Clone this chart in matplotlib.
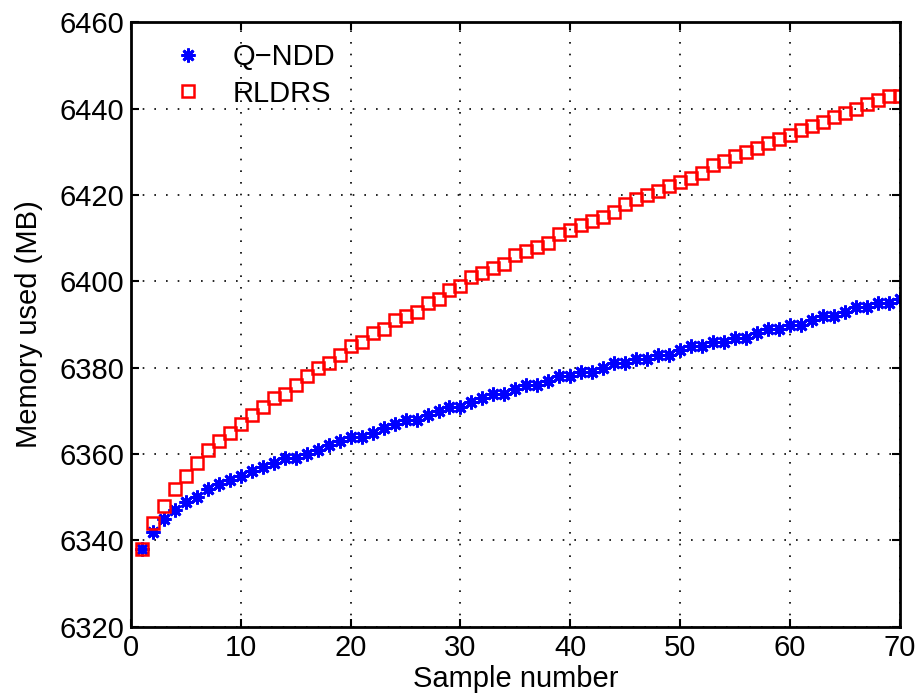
import matplotlib
matplotlib.use("Agg")
import matplotlib.pyplot as plt

# sample index 1..70
samples = list(range(1, 71))

qndd = [6338, 6342, 6345, 6347, 6349, 6350, 6352, 6353, 6354, 6355,
        6356, 6357, 6358, 6359, 6359, 6360, 6361, 6362, 6363, 6364,
        6364, 6365, 6366, 6367, 6368, 6368, 6369, 6370, 6371, 6371,
        6372, 6373, 6374, 6374, 6375, 6376, 6376, 6377, 6378, 6378,
        6379, 6379, 6380, 6381, 6381, 6382, 6382, 6383, 6383, 6384,
        6385, 6385, 6386, 6386, 6387, 6387, 6388, 6389, 6389, 6390,
        6390, 6391, 6392, 6392, 6393, 6394, 6394, 6395, 6395, 6396]

rldrs = [6338, 6344, 6348, 6352, 6355, 6358, 6361, 6363, 6365, 6367,
         6369, 6371, 6373, 6374, 6376, 6378, 6380, 6381, 6383, 6385,
         6386, 6388, 6389, 6391, 6392, 6393, 6395, 6396, 6398, 6399,
         6401, 6402, 6403, 6404, 6406, 6407, 6408, 6409, 6411, 6412,
         6413, 6414, 6415, 6416, 6418, 6419, 6420, 6421, 6422, 6423,
         6424, 6425, 6427, 6428, 6429, 6430, 6431, 6432, 6433, 6434,
         6435, 6436, 6437, 6438, 6439, 6440, 6441, 6442, 6443, 6443]

plt.rcParams['font.family'] = ['Liberation Sans', 'DejaVu Sans']
fs = 21

fig = plt.figure(figsize=(9.17, 6.98), dpi=100)
ax = fig.add_axes([0.143, 0.102, 0.838, 0.866])

ax.plot(samples, qndd, linestyle='none', marker=(8, 2, 0), markersize=10,
        markeredgewidth=2, color='#0000ff', label='Q\u2212NDD')
ax.plot(samples, rldrs, linestyle='none', marker='s', markersize=9,
        markeredgewidth=1.8, markerfacecolor='none', markeredgecolor='#ff0000',
        label='RLDRS')

ax.set_xlim(0, 70)
ax.set_ylim(6320, 6460)
ax.set_xticks(range(0, 71, 10))
ax.set_yticks(range(6320, 6461, 20))
ax.grid(True, linestyle=(0, (1, 6)), color='black', linewidth=1.2)
ax.tick_params(direction='in', top=True, right=True, length=6, width=1.5,
               labelsize=fs, pad=5)
for s in ax.spines.values():
    s.set_linewidth(2)

ax.set_xlabel('Sample number', fontsize=fs, labelpad=2)
ax.set_ylabel('Memory used (MB)', fontsize=fs, labelpad=12)

ax.legend(loc='upper left', frameon=False, fontsize=fs, handletextpad=0.5,
          borderaxespad=0.3, bbox_to_anchor=(0.01, 1.0), labelspacing=0.3)

fig.savefig('out.png', dpi=100)
